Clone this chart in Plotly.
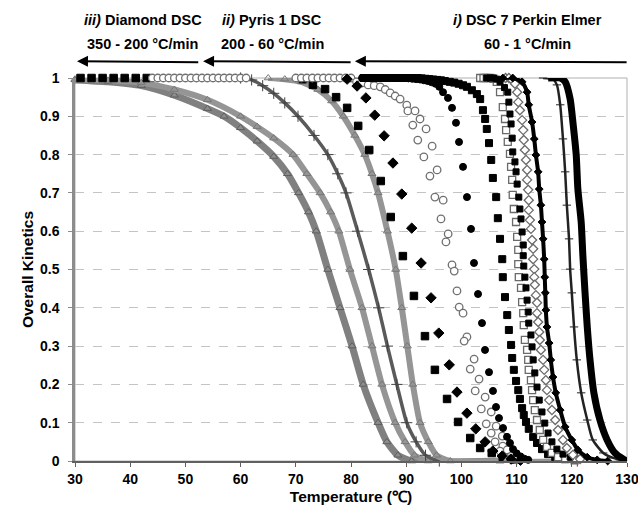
import plotly.graph_objects as go

# ---------------- data (temperature °C, overall kinetics) ----------------
# dense grey curves (fast rates)
a_pts = [(30, 0.995), (36, 0.99), (42, 0.98), (48, 0.955), (54, 0.92), (57, 0.9), (60, 0.87), (63, 0.835),
         (66, 0.795), (68.5, 0.75), (70.5, 0.7), (72.3, 0.65), (73.7, 0.6), (75.8, 0.5), (78.0, 0.4),
         (80.2, 0.3), (82.2, 0.2), (84.9, 0.1), (86.5, 0.05), (88.5, 0.015), (91, 0.0), (107, 0.0)]
b_pts = [(30, 0.997), (36, 0.994), (42, 0.988), (48, 0.97), (54, 0.943), (60, 0.9), (63, 0.873), (66, 0.843),
         (69.5, 0.8), (72, 0.75), (74.4, 0.7), (76.3, 0.65), (77.8, 0.6), (79.8, 0.5), (82.0, 0.4),
         (83.8, 0.3), (85.6, 0.2), (88.0, 0.1), (89.8, 0.05), (91.5, 0.015), (94, 0.0), (107, 0.0)]
c_pts = [(60, 1.0), (62, 0.995), (64, 0.98), (66, 0.96), (68, 0.935), (70.4, 0.9), (73.3, 0.85), (75.8, 0.8),
         (77.6, 0.75), (79.1, 0.7), (81.2, 0.6), (83.2, 0.5), (85.0, 0.4), (86.6, 0.3), (88.3, 0.2),
         (90.1, 0.1), (91.8, 0.05), (93.5, 0.015), (96, 0.0), (121, 0.0)]
d_pts = [(65, 1.0), (68, 0.997), (71, 0.99), (74, 0.97), (76.5, 0.94), (78.6, 0.9), (80.7, 0.85), (82.5, 0.8),
         (83.8, 0.75), (84.9, 0.7), (86.6, 0.6), (88.1, 0.5), (89.2, 0.4), (90.2, 0.3), (91.2, 0.2),
         (92.5, 0.1), (94, 0.05), (95.5, 0.015), (98, 0.0), (121, 0.0)]

# sparse black squares
e_pts = [(31, 1.0), (33, 1.0), (35, 1.0), (37, 1.0), (39, 1.0), (41, 1.0), (43, 1.0),
         (71.3, 0.997), (73.1, 0.982), (75.3, 0.971), (77.3, 0.95), (79.3, 0.922), (81.3, 0.875),
         (83.3, 0.812), (85.4, 0.731), (87.2, 0.637), (89.4, 0.535), (91.4, 0.431), (93.4, 0.326),
         (95.2, 0.238), (97.4, 0.162), (99.4, 0.102), (101.6, 0.06), (103.4, 0.034), (105.5, 0.021),
         (107.5, 0.01), (109.5, 0.004)]
# open circles
f_pts = [(44, 1.0), (45, 1.0), (46, 1.0), (47, 1.0), (48, 1.0), (49, 1.0), (50, 1.0), (51, 1.0), (52, 1.0),
         (53, 1.0), (54, 1.0), (55, 1.0), (56, 1.0), (57, 1.0), (58, 1.0), (59, 1.0), (60, 1.0), (61, 1.0),
         (70, 1.0), (71, 1.0), (72, 1.0), (73, 1.0), (74, 1.0), (75, 1.0), (76, 1.0), (77, 1.0), (78, 1.0),
         (79, 1.0), (80, 1.0),
         (81.0, 0.99), (82.0, 0.987), (83.1, 0.982), (84.2, 0.98), (85.3, 0.977), (86.2, 0.97), (87.1, 0.961),
         (88.0, 0.953), (88.9, 0.945), (90.1, 0.929), (90.3, 0.914), (91.6, 0.914), (91.2, 0.877),
         (92.5, 0.893), (92.1, 0.838), (93.6, 0.867), (93.2, 0.794), (94.7, 0.822), (94.3, 0.744),
         (95.6, 0.76), (95.2, 0.689), (96.7, 0.681), (96.3, 0.632), (97.6, 0.593), (97.2, 0.572),
         (98.3, 0.512), (98.7, 0.496), (99.2, 0.444), (99.6, 0.402), (100.3, 0.386), (101.0, 0.324),
         (100.5, 0.313), (102.3, 0.266), (101.6, 0.24), (103.2, 0.214), (102.5, 0.183), (104.3, 0.167),
         (103.6, 0.136), (105.4, 0.128), (104.5, 0.097), (106.3, 0.091), (105.4, 0.073), (107.4, 0.065),
         (106.1, 0.05), (107.5, 0.039), (107.0, 0.026), (108.3, 0.029), (107.9, 0.01), (109.0, 0.006),
         (110.0, 0.003)]
# black diamonds
g_pts = [(79.3, 0.997), (81.1, 0.979), (82.7, 0.948), (84.3, 0.903), (86.0, 0.849), (87.6, 0.778),
         (89.2, 0.697), (91.0, 0.608), (92.7, 0.517), (94.5, 0.426), (95.9, 0.334), (97.8, 0.251),
         (99.2, 0.18), (101.0, 0.125), (102.6, 0.084), (104.3, 0.05), (105.7, 0.026), (107.4, 0.013),
         (109.0, 0.005), (110.7, 0.002)]
# black circles
h_pts = [(82.0, 1.0), (82.7, 1.0), (83.4, 1.0), (84.1, 1.0), (84.8, 1.0), (85.5, 1.0), (86.2, 1.0),
         (86.9, 1.0), (87.6, 1.0), (88.3, 1.0), (89.0, 1.0), (89.7, 1.0), (90.4, 0.999), (91.1, 0.998),
         (91.8, 0.997), (92.5, 0.996), (93.2, 0.994), (93.9, 0.992), (94.6, 0.989), (95.3, 0.985),
         (96.0, 0.977), (96.67, 0.963), (97.57, 0.948), (98.3, 0.922), (99.02, 0.883), (99.57, 0.833),
         (100.29, 0.768), (101.01, 0.689), (101.74, 0.606), (102.28, 0.517), (103.01, 0.436),
         (103.73, 0.36), (104.28, 0.29), (105.0, 0.232), (105.72, 0.183), (106.27, 0.141), (106.81, 0.112),
         (107.54, 0.086), (108.26, 0.063), (108.8, 0.047), (109.35, 0.031), (110.0, 0.02), (110.7, 0.012),
         (111.4, 0.006), (112.1, 0.003)]
# black squares (medium)
i_pts = [(82.3, 1.0), (83.0, 1.0), (83.7, 1.0), (84.4, 1.0), (85.1, 1.0), (85.8, 1.0), (86.5, 1.0),
         (87.2, 1.0), (87.9, 1.0), (88.6, 1.0), (89.3, 1.0), (90.0, 1.0), (90.7, 1.0), (91.4, 1.0),
         (92.1, 1.0), (92.8, 0.999), (93.5, 0.998), (94.2, 0.997), (94.9, 0.996), (95.6, 0.995),
         (96.3, 0.994), (97.0, 0.992), (97.9, 0.99), (98.7, 0.988), (99.5, 0.985), (100.3, 0.981),
         (101.0, 0.977), (101.9, 0.968), (102.8, 0.958), (103.4, 0.945), (103.9, 0.916), (104.3, 0.893),
         (104.6, 0.867), (105.0, 0.83), (105.4, 0.786), (105.7, 0.739), (106.3, 0.689), (106.6, 0.634),
         (107.0, 0.58), (107.4, 0.527), (107.5, 0.48), (107.9, 0.428), (108.3, 0.381), (108.6, 0.342),
         (109.0, 0.303), (109.2, 0.269), (109.5, 0.238), (109.9, 0.209), (110.3, 0.185), (110.6, 0.162),
         (111.0, 0.138), (111.3, 0.12), (111.7, 0.102), (112.2, 0.084), (113.0, 0.063), (113.7, 0.047),
         (114.6, 0.031), (115.7, 0.018), (117.0, 0.01), (118.8, 0.005)]
# open squares
j_pts = [(103.4, 1.0), (104.0, 1.0), (104.6, 1.0), (105.2, 1.0), (105.8, 0.998), (106.4, 0.99),
         (107.0, 0.963), (107.5, 0.924), (107.9, 0.893), (108.1, 0.864), (108.4, 0.833), (108.8, 0.802),
         (109.0, 0.768), (109.2, 0.734), (109.3, 0.695), (109.5, 0.658), (109.9, 0.624), (110.1, 0.585),
         (110.3, 0.551), (110.3, 0.514), (110.4, 0.48), (110.8, 0.452), (111.0, 0.415), (111.2, 0.386),
         (111.3, 0.355), (111.5, 0.316), (111.9, 0.29), (112.1, 0.264), (112.2, 0.238), (112.6, 0.211),
         (112.8, 0.185), (113.0, 0.159), (113.3, 0.133), (113.7, 0.107), (114.2, 0.081), (114.8, 0.055),
         (115.5, 0.037), (116.4, 0.021), (117.5, 0.01), (118.8, 0.005), (120.5, 0.002)]
# black squares (small)
k_pts = [(104.6, 1.0), (105.2, 1.0), (105.8, 1.0), (106.4, 0.997), (107.0, 0.99), (107.8, 0.975),
         (108.4, 0.963), (108.6, 0.937), (108.8, 0.906), (109.0, 0.88), (109.2, 0.843), (109.3, 0.807),
         (109.7, 0.781), (109.9, 0.755), (110.1, 0.723), (110.4, 0.689), (110.6, 0.658), (110.8, 0.632),
         (111.0, 0.598), (111.2, 0.564), (111.2, 0.536), (111.3, 0.509), (111.5, 0.48), (111.7, 0.452),
         (111.9, 0.42), (112.1, 0.389), (112.2, 0.36), (112.6, 0.329), (112.8, 0.298), (113.0, 0.264),
         (113.3, 0.23), (113.7, 0.193), (114.1, 0.159), (114.6, 0.128), (115.1, 0.099), (115.7, 0.073),
         (116.4, 0.05), (117.3, 0.031), (118.4, 0.018), (119.7, 0.01), (121.5, 0.005)]
# open diamonds
l_pts = [(108.0, 1.0), (108.6, 1.0), (109.2, 0.995), (109.7, 0.985), (110.1, 0.963), (110.3, 0.937),
         (110.6, 0.916), (111.0, 0.89), (111.2, 0.864), (111.3, 0.838), (111.5, 0.812), (111.7, 0.786),
         (111.9, 0.76), (111.9, 0.734), (112.1, 0.708), (112.2, 0.681), (112.2, 0.655), (112.4, 0.629),
         (112.6, 0.606), (112.8, 0.577), (113.0, 0.554), (113.0, 0.527), (113.2, 0.501), (113.2, 0.48),
         (113.3, 0.46), (113.5, 0.433), (113.7, 0.413), (113.7, 0.386), (113.9, 0.363), (114.1, 0.337),
         (114.2, 0.316), (114.4, 0.29), (114.8, 0.264), (115.0, 0.238), (115.3, 0.211), (115.5, 0.185),
         (115.9, 0.159), (116.4, 0.133), (117.0, 0.107), (117.5, 0.081), (118.4, 0.055), (119.1, 0.034),
         (120.2, 0.016), (121.5, 0.005)]
# dense black (small diamonds)
m_pts = [(107.5, 1.0), (109.3, 1.0), (111.0, 0.99), (111.9, 0.963), (112.2, 0.93), (112.8, 0.885),
         (113.2, 0.841), (113.5, 0.799), (113.9, 0.755), (114.1, 0.71), (114.4, 0.668), (114.6, 0.624),
         (114.8, 0.58), (115.0, 0.527), (115.1, 0.48), (115.2, 0.439), (115.3, 0.394), (115.5, 0.35),
         (115.9, 0.308), (116.2, 0.264), (116.6, 0.219), (117.1, 0.178), (117.9, 0.133), (118.8, 0.089),
         (120.0, 0.055), (121.1, 0.029), (122.8, 0.01), (124.6, 0.003), (126.5, 0.0)]
# dashes
n_pts = [(114.8, 1.0), (116.6, 0.997), (117.3, 0.982), (117.9, 0.93), (118.4, 0.841), (118.8, 0.755),
         (119.1, 0.668), (119.5, 0.58), (119.7, 0.501), (120.0, 0.439), (120.4, 0.35), (120.9, 0.264),
         (121.7, 0.178), (122.8, 0.107), (123.8, 0.055), (125.7, 0.021), (127.5, 0.008), (128.7, 0.003)]
# rightmost thick black
o_pts = [(115.7, 1.0), (117.9, 1.0), (118.8, 0.99), (119.7, 0.945), (120.2, 0.885), (120.8, 0.799),
         (121.1, 0.71), (121.7, 0.624), (122.0, 0.538), (122.4, 0.439), (122.8, 0.35), (123.3, 0.264),
         (124.0, 0.178), (125.1, 0.107), (126.4, 0.055), (127.8, 0.021), (129.3, 0.005), (130.0, 0.0)]

x_ticks = [30, 40, 50, 60, 70, 80, 90, 100, 110, 120, 130]
y_ticks = [0, 0.1, 0.2, 0.3, 0.4, 0.5, 0.6, 0.7, 0.8, 0.9, 1]
y_tick_text = ["0", "0.1", "0.2", "0.3", "0.4", "0.5", "0.6", "0.7", "0.8", "0.9", "1"]

instrument_labels = [("<i>iii)</i> Diamond DSC", "350 - 200 °C/min", 42.3, 30.36, 52.6),
                     ("<i>ii)</i> Pyris 1 DSC", "200 - 60 °C/min", 65.7, 53.2, 80.2),
                     ("<i>i)</i> DSC 7 Perkin Elmer", "60 - 1 °C/min", 111.9, 80.7, 130.2)]


def xs(p):
    return [q[0] for q in p]


def ys(p):
    return [q[1] for q in p]


fig = go.Figure()


def dense(pts, width, color, msym=None, msize=6, mcolor=None, mline=None):
    kw = dict(x=xs(pts), y=ys(pts), line=dict(color=color, width=width, shape="spline", smoothing=0.6),
              cliponaxis=False, hoverinfo="skip")
    if msym:
        kw["mode"] = "lines+markers"
        kw["marker"] = dict(symbol=msym, size=msize, color=mcolor or color,
                            line=dict(color=mline or color, width=1))
    else:
        kw["mode"] = "lines"
    fig.add_trace(go.Scatter(**kw))


def sparse(pts, sym, size, fill, edge, lw=1):
    fig.add_trace(go.Scatter(x=xs(pts), y=ys(pts), mode="markers", cliponaxis=False, hoverinfo="skip",
                             marker=dict(symbol=sym, size=size, color=fill, line=dict(color=edge, width=lw))))


dense(a_pts, 7, "#808080", "triangle-up", 7, "#8c8c8c", "#5e5e5e")
dense(b_pts, 6, "#959595", "triangle-up-open", 7, "#777777", "#777777")
dense(c_pts, 3.5, "#5a5a5a", "cross-thin-open", 8, "#444444", "#444444")
dense(d_pts, 6, "#959595", "triangle-up-open", 7, "#777777", "#777777")

sparse(e_pts, "square", 7.5, "black", "black")
sparse(f_pts, "circle", 7.5, "white", "#707070", 1.3)
sparse(g_pts, "diamond", 8, "black", "black")
sparse(h_pts, "circle", 7, "black", "black")
sparse(i_pts, "square", 7, "black", "black")
sparse(j_pts, "square", 7, "white", "#6a6a6a", 1.3)
sparse(k_pts, "square", 6, "black", "black")
sparse(l_pts, "diamond", 7, "white", "#6a6a6a", 1.3)

dense(m_pts, 4, "black", "diamond", 6, "black", "black")
dense(n_pts, 2.5, "#222222", "line-ew", 6, "#222222", "#222222")
dense(o_pts, 7, "black")

label_font = dict(size=14.5, family="Liberation Sans, Arial", color="black")
annotations = []
for line1, line2, xc, head, tail in instrument_labels:
    annotations.append(dict(x=xc, y=1.152, xref="x", yref="paper", xanchor="center", yanchor="middle",
                            text="<b>" + line1 + "</b>", showarrow=False, font=label_font))
    annotations.append(dict(x=xc, y=1.089, xref="x", yref="paper", xanchor="center", yanchor="middle",
                            text="<b>" + line2 + "</b>", showarrow=False, font=label_font))
    annotations.append(dict(x=head, y=1.044, xref="x", yref="paper", ax=tail, ay=1.044, axref="x",
                            ayref="y", text="", showarrow=True, arrowhead=2, arrowsize=1.1,
                            arrowwidth=2, arrowcolor="black"))

fig.update_layout(
    width=638, height=510,
    margin=dict(l=75, r=11, t=78, b=49),
    paper_bgcolor="white", plot_bgcolor="white",
    showlegend=False,
    font=dict(family="Liberation Sans, Arial, sans-serif", size=14, color="black"),
    annotations=annotations,
    shapes=[dict(type="rect", xref="paper", yref="paper", x0=0, x1=1, y0=0, y1=1,
                 line=dict(color="#b0b0b0", width=1), layer="below")],
    xaxis=dict(range=[30, 130], tickvals=x_ticks, ticktext=[f"<b>{v}</b>" for v in x_ticks],
               showline=True, linecolor="#606060", linewidth=1.5, ticks="outside", ticklen=4,
               tickcolor="#606060", showgrid=False, zeroline=False, ticklabeloverflow="allow",
               automargin=False,
               title=dict(text="<b>Temperature (℃)</b>", font=dict(size=15.5), standoff=6)),
    yaxis=dict(range=[0, 1], tickvals=y_ticks, ticktext=[f"<b>{t}</b>" for t in y_tick_text],
               showline=True, linecolor="#8c8c8c", linewidth=2.5, ticks="outside", ticklen=4,
               tickcolor="#8c8c8c", showgrid=True, gridcolor="#c4c4c4", griddash="dash", gridwidth=1,
               zeroline=False, ticklabelstandoff=6, automargin=False,
               title=dict(text="<b>Overall Kinetics</b>", font=dict(size=15.5), standoff=3)),
)

fig.write_html("out.html")
